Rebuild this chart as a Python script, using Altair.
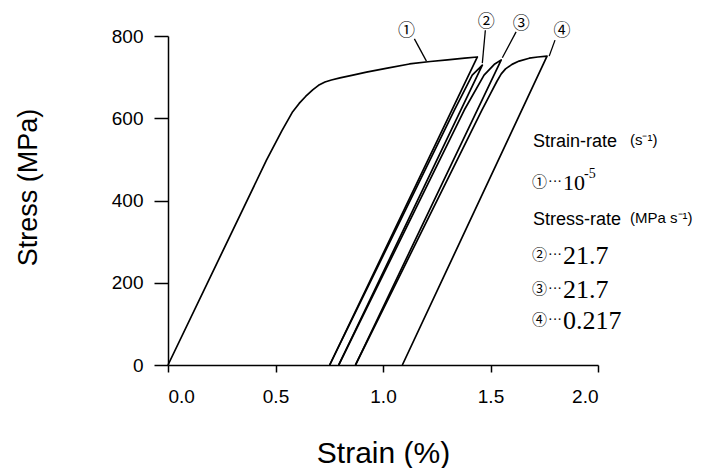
import altair as alt
import pandas as pd

# ---- curve data (strain %, stress MPa) ----
c1_strain = [0.0, 0.458, 0.53, 0.58, 0.61, 0.64, 0.673, 0.70, 0.73, 0.76, 0.80, 0.86,
             0.923, 1.02, 1.123, 1.22, 1.30, 1.38, 1.439, 0.752]
c1_stress = [0, 498, 570, 616, 636, 653, 669, 680, 688, 693, 698, 705,
             712, 722, 732, 738, 742, 746, 749, 0]

c2_strain = [0.752, 1.332, 1.415, 1.462, 0.794]
c2_stress = [0, 620, 705, 729, 0]

c3_strain = [0.794, 1.378, 1.47, 1.52, 1.55, 0.872]
c3_stress = [0, 620, 705, 732, 742, 0]

c4_strain = [0.872, 1.46, 1.50, 1.53, 1.55, 1.57, 1.60, 1.633, 1.68, 1.72, 1.763, 1.09]
c4_stress = [0, 620, 660, 690, 708, 720, 731, 739, 746, 749, 751, 0]

# circled labels and their leader lines (data units)
label_text = ["①", "②", "③", "④"]
label_strain = [1.109, 1.480, 1.643, 1.833]
label_stress = [813, 833, 829, 813]
lead_strain = [1.146, 1.476, 1.619, 1.800]
lead_stress = [793, 814, 810, 790]
lead_strain2 = [1.202, 1.462, 1.555, 1.773]
lead_stress2 = [739, 734, 747, 751]

x_ticks = [0, 0.5, 1.0, 1.5, 2.0]
y_ticks = [0, 200, 400, 600, 800]

rows = []
for cid, (xs_, ys_) in enumerate([(c1_strain, c1_stress), (c2_strain, c2_stress),
                                  (c3_strain, c3_stress), (c4_strain, c4_stress)], start=1):
    for i, (a, b) in enumerate(zip(xs_, ys_)):
        rows.append({"curve": cid, "idx": i, "strain": a, "stress": b})
df = pd.DataFrame(rows)

lead_df = pd.DataFrame({"strain": lead_strain, "stress": lead_stress,
                        "strain2": lead_strain2, "stress2": lead_stress2})
lab_df = pd.DataFrame({"strain": label_strain, "stress": label_stress, "label": label_text})

FONT = "Liberation Sans"
SERIF = "Liberation Serif"
CJK = "Noto Sans CJK JP"

xscale = alt.Scale(domain=[0, 2], nice=False, zero=False)
yscale = alt.Scale(domain=[0, 800], nice=False)

x_axis = alt.Axis(values=x_ticks, format=".1f", title="Strain (%)", tickSize=7,
                  labelPadding=15, titleX=215, titleY=97, titleAlign="center",
                  titleBaseline="alphabetic", titleFontSize=30)
y_axis = alt.Axis(values=y_ticks, format="d", title="Stress (MPa)", tickSize=14,
                  labelPadding=11, titleX=-132, titleY=151, titleAngle=270,
                  titleAlign="center", titleBaseline="alphabetic", titleFontSize=27)

X = alt.X("strain:Q", scale=xscale, axis=x_axis)
Y = alt.Y("stress:Q", scale=yscale, axis=y_axis)

lines = alt.Chart(df).mark_line(color="black", strokeWidth=1.7, strokeJoin="round").encode(
    x=X, y=Y, detail="curve:N", order="idx:Q")

leaders = alt.Chart(lead_df).mark_rule(color="black", strokeWidth=1.3).encode(
    x=X, y=Y, x2="strain2:Q", y2="stress2:Q")

labels = alt.Chart(lab_df).mark_text(font=CJK, fontSize=17, color="black").encode(
    x=X, y=Y, text="label:N")


def txt(s, x, y, size, font=FONT):
    return alt.Chart(pd.DataFrame({"t": [s]})).mark_text(
        align="left", baseline="middle", font=font, fontSize=size, color="black"
    ).encode(x=alt.value(x), y=alt.value(y), text="t:N")


legend_rows = [
    txt("Strain-rate", 365, 106, 18),
    txt("(s⁻¹)", 462, 104, 15),
    txt("①", 364, 146, 15, CJK),
    txt("···", 380, 146, 14, SERIF),
    txt("10", 395, 147, 22, SERIF),
    txt("-5", 416, 138, 14, SERIF),
    txt("Stress-rate", 365, 184, 18),
    txt("(MPa s⁻¹)", 462, 182, 15),
    txt("②", 364, 219, 15, CJK),
    txt("···", 380, 219, 14, SERIF),
    txt("21.7", 395, 220, 26, SERIF),
    txt("③", 364, 253, 15, CJK),
    txt("···", 380, 253, 14, SERIF),
    txt("21.7", 395, 254, 26, SERIF),
    txt("④", 364, 284, 15, CJK),
    txt("···", 380, 284, 14, SERIF),
    txt("0.217", 395, 285, 26, SERIF),
]

chart = alt.layer(lines, leaders, labels, *legend_rows).properties(
    width=430, height=329,
    autosize=alt.AutoSizeParams(type="none"),
    padding={"left": 160, "top": 28, "right": 98, "bottom": 103},
).configure_view(stroke=None).configure_axis(
    grid=False, domainColor="black", domainWidth=1.5, tickColor="black", tickWidth=1.5,
    labelColor="black", titleColor="black", labelFont=FONT, titleFont=FONT,
    labelFontSize=19, titleFontWeight="normal",
)

chart.save("out.html", embed_options={"renderer": "svg", "actions": False})
